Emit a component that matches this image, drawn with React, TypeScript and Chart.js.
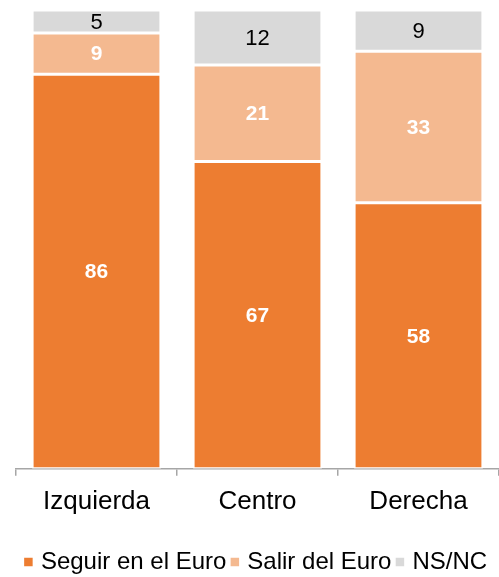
import React, { useEffect, useRef } from "react";
import { Chart, registerables } from "chart.js";

Chart.register(...registerables);

const categories = ["Izquierda", "Centro", "Derecha"];
const seguirValues = [86, 67, 58];
const salirValues = [9, 21, 33];
const nsncValues = [5, 12, 9];
const seriesNames = ["Seguir en el Euro", "Salir del Euro", "NS/NC"];
const seriesColors = ["#ED7D31", "#F4B990", "#D9D9D9"];

const FONT = "Arial, 'Liberation Sans', sans-serif";

const valueLabels = {
  id: "valueLabels",
  afterDatasetsDraw(chart: any) {
    const ctx = chart.ctx;
    chart.data.datasets.forEach((ds: any, i: number) => {
      const meta = chart.getDatasetMeta(i);
      if (meta.hidden) return;
      meta.data.forEach((el: any, j: number) => {
        const v = ds.data[j];
        const p = el.getProps(["x", "y", "base"], true);
        ctx.save();
        if (i < 2) {
          ctx.font = `bold 21px ${FONT}`;
          ctx.fillStyle = "#FFFFFF";
        } else {
          ctx.font = `22px ${FONT}`;
          ctx.fillStyle = "#000000";
        }
        ctx.textAlign = "center";
        ctx.textBaseline = "middle";
        ctx.fillText(String(v), p.x, (p.y + p.base) / 2 + 1);
        ctx.restore();
      });
    });
  },
};

export default function App() {
  const canvasRef = useRef<HTMLCanvasElement | null>(null);

  useEffect(() => {
    if (!canvasRef.current) return;
    const values = [seguirValues, salirValues, nsncValues];
    const chart = new Chart(canvasRef.current, {
      type: "bar",
      data: {
        labels: categories,
        datasets: values.map((d, i) => ({
          label: seriesNames[i],
          data: d,
          backgroundColor: seriesColors[i],
          borderColor: "#FFFFFF",
          borderWidth: 1.5,
          borderSkipped: false,
          barPercentage: 0.8,
          categoryPercentage: 1,
        })),
      },
      options: {
        animation: false,
        responsive: true,
        maintainAspectRatio: false,
        layout: { padding: { left: 16, right: 0, top: 10, bottom: 0 } },
        scales: {
          x: {
            stacked: true,
            offset: true,
            grid: {
              display: true,
              drawOnChartArea: false,
              drawTicks: true,
              tickLength: 7,
              color: "#A6A6A6",
              lineWidth: 1.5,
              offset: true,
            },
            border: { display: true, color: "#A6A6A6", width: 1.5 },
            ticks: {
              color: "#000000",
              padding: 10,
              font: { family: FONT, size: 26, lineHeight: 1.2 },
            },
          },
          y: {
            stacked: true,
            display: false,
            min: 0,
            max: 100,
          },
        },
        plugins: {
          legend: {
            position: "bottom",
            title: { display: true, text: "", font: { size: 1, lineHeight: 1 }, padding: { top: 14, bottom: 0 } },
            labels: {
              usePointStyle: true,
              pointStyle: "rect",
              boxWidth: 1,
              boxHeight: 10,
              padding: 8,
              color: "#000000",
              font: { family: FONT, size: 24 },
            },
          },
          tooltip: { enabled: false },
        },
      },
      plugins: [valueLabels],
    });
    return () => chart.destroy();
  }, []);

  return (
    <div style={{ position: "fixed", left: 0, top: 0, width: 499, height: 584 }}>
      <canvas ref={canvasRef} />
    </div>
  );
}
